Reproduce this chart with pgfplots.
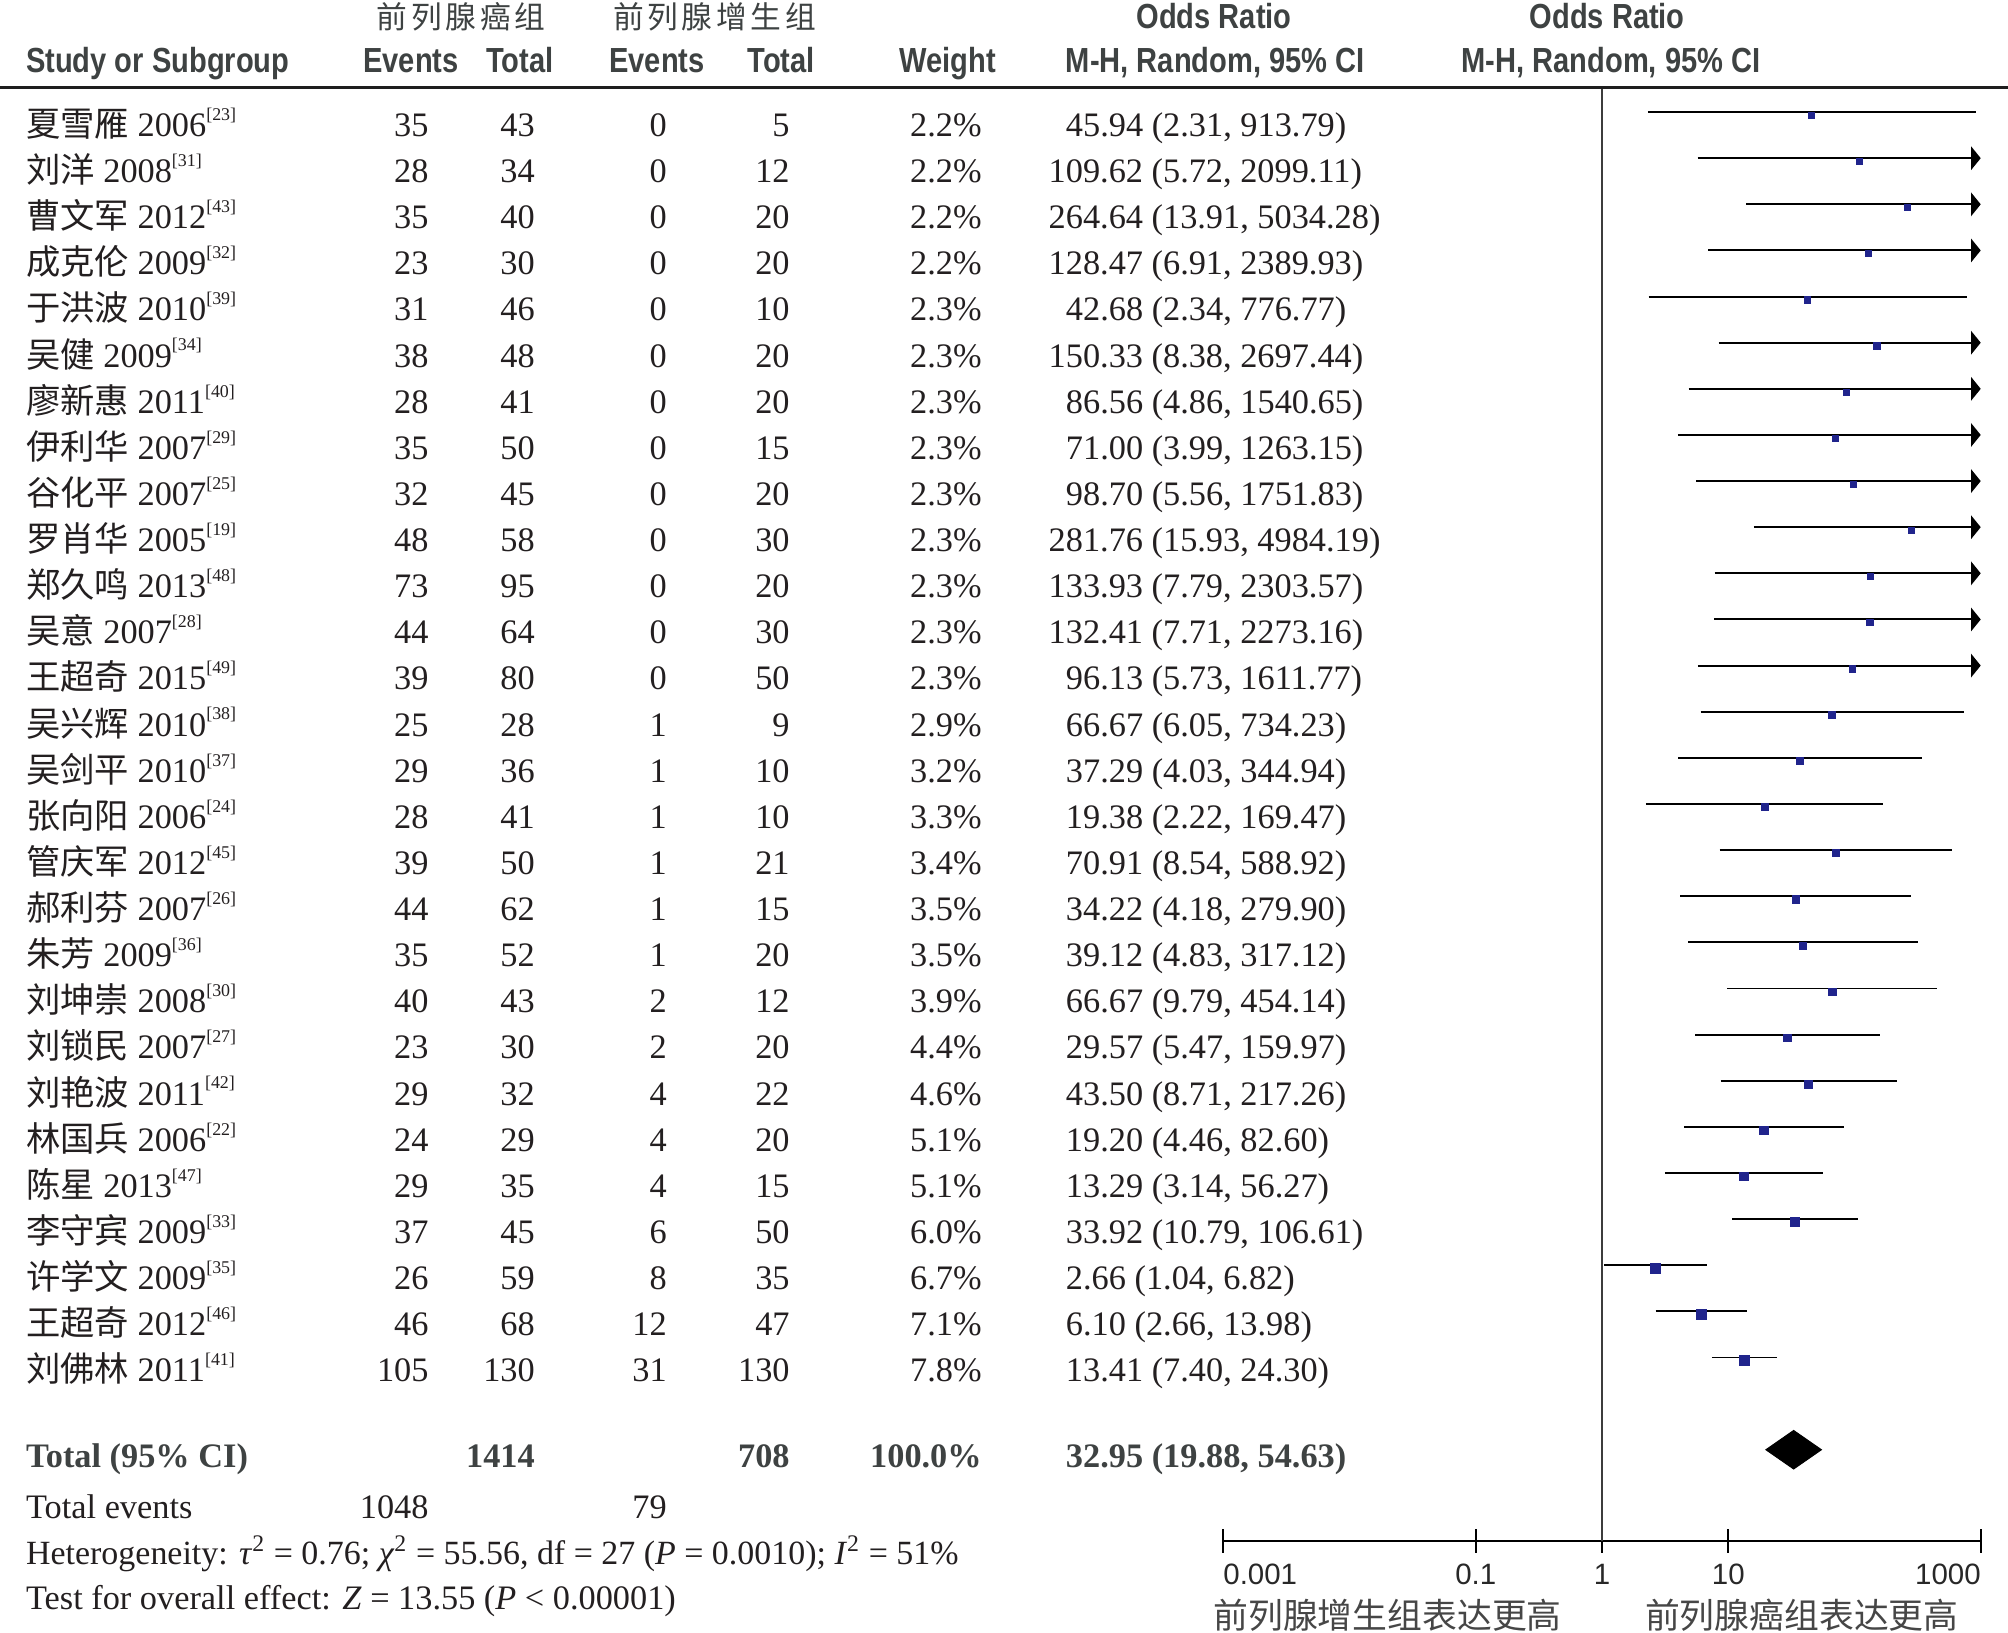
\documentclass[border=0pt]{standalone}
\usepackage{fontspec}
\setmainfont{Liberation Serif}
\newfontfamily\cjk{Noto Sans CJK SC}
\newfontfamily\cjkhead[LetterSpace=12]{Noto Sans CJK SC}
\newfontfamily\hdrfont[FakeStretch=0.835]{Liberation Sans}
\newfontfamily\tickfont{Liberation Sans}
\usepackage{pgfplots}
\usepackage{pgfplotstable}
\pgfplotsset{compat=1.18}
\usetikzlibrary{arrows.meta}

\definecolor{txt}{RGB}{35,31,32}
\definecolor{head}{RGB}{62,66,66}
\definecolor{box}{RGB}{32,36,140}
\definecolor{rule}{RGB}{60,60,60}

\newcommand\bodyfont{\fontsize{13.4}{16}\selectfont}
\newcommand\headfont{\hdrfont\bfseries\fontsize{13.6}{16}\selectfont}
\newcommand\refsup[1]{\raisebox{0.47em}{\fontsize{7}{8}\selectfont[#1]}}

% studies in the order of the figure
% nm year ref | cancer events total | BPH events total | weight | OR lo hi
\pgfplotstableread{
nm yr rf ea ta eb tb w or lo hi
夏雪雁 2006 23 35 43 0 5 2.2 45.94 2.31 913.79
刘洋 2008 31 28 34 0 12 2.2 109.62 5.72 2099.11
曹文军 2012 43 35 40 0 20 2.2 264.64 13.91 5034.28
成克伦 2009 32 23 30 0 20 2.2 128.47 6.91 2389.93
于洪波 2010 39 31 46 0 10 2.3 42.68 2.34 776.77
吴健 2009 34 38 48 0 20 2.3 150.33 8.38 2697.44
廖新惠 2011 40 28 41 0 20 2.3 86.56 4.86 1540.65
伊利华 2007 29 35 50 0 15 2.3 71.00 3.99 1263.15
谷化平 2007 25 32 45 0 20 2.3 98.70 5.56 1751.83
罗肖华 2005 19 48 58 0 30 2.3 281.76 15.93 4984.19
郑久鸣 2013 48 73 95 0 20 2.3 133.93 7.79 2303.57
吴意 2007 28 44 64 0 30 2.3 132.41 7.71 2273.16
王超奇 2015 49 39 80 0 50 2.3 96.13 5.73 1611.77
吴兴辉 2010 38 25 28 1 9 2.9 66.67 6.05 734.23
吴剑平 2010 37 29 36 1 10 3.2 37.29 4.03 344.94
张向阳 2006 24 28 41 1 10 3.3 19.38 2.22 169.47
管庆军 2012 45 39 50 1 21 3.4 70.91 8.54 588.92
郝利芬 2007 26 44 62 1 15 3.5 34.22 4.18 279.90
朱芳 2009 36 35 52 1 20 3.5 39.12 4.83 317.12
刘坤崇 2008 30 40 43 2 12 3.9 66.67 9.79 454.14
刘锁民 2007 27 23 30 2 20 4.4 29.57 5.47 159.97
刘艳波 2011 42 29 32 4 22 4.6 43.50 8.71 217.26
林国兵 2006 22 24 29 4 20 5.1 19.20 4.46 82.60
陈星 2013 47 29 35 4 15 5.1 13.29 3.14 56.27
李守宾 2009 33 37 45 6 50 6.0 33.92 10.79 106.61
许学文 2009 35 26 59 8 35 6.7 2.66 1.04 6.82
王超奇 2012 46 46 68 12 47 7.1 6.10 2.66 13.98
刘佛林 2011 41 105 130 31 130 7.8 13.41 7.40 24.30
}\studies

\pgfplotsset{cibar/.style={black, line width=0.75pt, mark=none}}

\begin{document}
\begin{tikzpicture}

\begin{axis}[
  at={(477.65pt,-601.5pt)}, anchor=south west,
  scale only axis, width=295.7pt, height=567.4pt,
  xmode=log, xmin=0.001, xmax=1000,
  ymin=-31.97, ymax=-0.464,
  axis y line=none, axis x line=bottom,
  x axis line style={-, line width=0.8pt, black},
  xtick={0.001,0.1,1,10,1000},
  xticklabels={\rlap{0.001},0.1,1,10,\llap{1000}},
  xminorticks=false,
  xtick align=center, major tick length=9.4pt,
  every tick/.style={black, line width=0.8pt},
  xticklabel style={font=\tickfont\fontsize{11.5}{13}\selectfont, text={rgb,255:red,40;green,40;blue,40},
    anchor=north, inner sep=0pt, yshift=-4.3pt},
  clip=false,
]
% line of no effect
\addplot[rule, line width=0.8pt] coordinates {(1,-31.97) (1,-0.464)};

% confidence intervals, arrow where the upper limit runs past 1000
\pgfplotsforeachungrouped \r in {0,...,27}{%
  \pgfplotstablegetelem{\r}{lo}\of\studies \let\lo\pgfplotsretval
  \pgfplotstablegetelem{\r}{hi}\of\studies \let\hi\pgfplotsretval
  \pgfmathtruncatemacro\yy{-\r-1}%
  \pgfmathtruncatemacro\cut{\hi>1000}%
  \ifnum\cut=1
    \edef\tmp{\noexpand\addplot[cibar, -{Triangle[length=3.8pt, width=9.2pt]}] coordinates {(\lo,\yy) (1000,\yy)};}%
  \else
    \edef\tmp{\noexpand\addplot[cibar] coordinates {(\lo,\yy) (\hi,\yy)};}%
  \fi
  \tmp
}

% point estimates, box size follows the weight
\addplot[scatter, only marks, mark=square*,
  scatter/use mapped color={draw=box, fill=box},
  visualization depends on={0.9+0.14*\thisrow{w} \as \msize},
  scatter/@pre marker code/.append style={/tikz/mark size=\msize, /tikz/yshift=-1.3pt}]
  table[x=or, y expr=-\coordindex-1] {\studies};

% pooled estimate 32.95 (19.88, 54.63)
\addplot[fill=black, draw=black] coordinates {(19.88,-30) (32.95,-29.583) (54.63,-30) (32.95,-30.417)} -- cycle;
\end{axis}

\begin{scope}[x=0.5pt, y=-0.5pt, every node/.style={inner sep=0pt, text=txt, font=\bodyfont}]
\path[use as bounding box] (0,0) rectangle (1568,1274.4);

% header
\begin{scope}[every node/.style={inner sep=0pt, text=head}]
\node[anchor=base, font=\cjkhead\fontsize{12}{14}\selectfont] at (360,22) {前列腺癌组};
\node[anchor=base, font=\cjkhead\fontsize{12}{14}\selectfont] at (558,22) {前列腺增生组};
\node[anchor=base, font=\headfont] at (948,22) {Odds Ratio};
\node[anchor=base, font=\headfont] at (1255,22) {Odds Ratio};
\node[anchor=base west, font=\headfont] at (20,56.5) {Study or Subgroup};
\node[anchor=base, font=\headfont] at (321,56.5) {Events};
\node[anchor=base, font=\headfont] at (406,56.5) {Total};
\node[anchor=base, font=\headfont] at (513,56.5) {Events};
\node[anchor=base, font=\headfont] at (610,56.5) {Total};
\node[anchor=base, font=\headfont] at (740,56.5) {Weight};
\node[anchor=base, font=\headfont] at (949,56.5) {M-H, Random, 95\% CI};
\node[anchor=base, font=\headfont] at (1258,56.5) {M-H, Random, 95\% CI};
\end{scope}
\draw[line width=1.3pt, color={rgb,255:red,30;green,30;blue,30}] (0,68.2) -- (1568,68.2);

% study rows
\foreach \r in {0,...,27}{
  \pgfmathsetmacro\yb{70.48+36.02*(\r+1)}
  \pgfplotstablegetelem{\r}{nm}\of\studies\let\nm\pgfplotsretval
  \pgfplotstablegetelem{\r}{yr}\of\studies\let\yr\pgfplotsretval
  \pgfplotstablegetelem{\r}{rf}\of\studies\let\rf\pgfplotsretval
  \pgfplotstablegetelem{\r}{ea}\of\studies\let\ea\pgfplotsretval
  \pgfplotstablegetelem{\r}{ta}\of\studies\let\ta\pgfplotsretval
  \pgfplotstablegetelem{\r}{eb}\of\studies\let\eb\pgfplotsretval
  \pgfplotstablegetelem{\r}{tb}\of\studies\let\tb\pgfplotsretval
  \pgfplotstablegetelem{\r}{w}\of\studies\let\wt\pgfplotsretval
  \pgfplotstablegetelem{\r}{or}\of\studies\let\orv\pgfplotsretval
  \pgfplotstablegetelem{\r}{lo}\of\studies\let\lo\pgfplotsretval
  \pgfplotstablegetelem{\r}{hi}\of\studies\let\hi\pgfplotsretval
  \pgfmathsetmacro\xo{\orv>=100 ? 818.5 : 832}
  \node[anchor=base west] at (20,\yb) {{\cjk\nm} \yr\refsup{\rf}};
  \node[anchor=base east] at (335,\yb) {\ea};
  \node[anchor=base east] at (418,\yb) {\ta};
  \node[anchor=base east] at (521,\yb) {\eb};
  \node[anchor=base east] at (617,\yb) {\tb};
  \node[anchor=base east] at (767,\yb) {\wt\%};
  \node[anchor=base west] at (\xo,\yb) {\orv\ (\lo, \hi)};
}

% totals
\begin{scope}[every node/.style={inner sep=0pt, text=head, font=\bodyfont\bfseries}]
\node[anchor=base west] at (20,1146) {Total (95\% CI)};
\node[anchor=base east] at (418,1146) {1414};
\node[anchor=base east] at (617,1146) {708};
\node[anchor=base east] at (767,1146) {100.0\%};
\node[anchor=base west] at (832,1146) {32.95 (19.88, 54.63)};
\end{scope}
\node[anchor=base west] at (20,1186) {Total events};
\node[anchor=base east] at (335,1186) {1048};
\node[anchor=base east] at (521,1186) {79};
\node[anchor=base west, font=\fontsize{13.25}{16}\selectfont] at (20,1222) {Heterogeneity: \textit{τ}\textsuperscript{2} = 0.76; \textit{χ}\textsuperscript{2} = 55.56, df = 27 (\textit{P} = 0.0010); \textit{I}\textsuperscript{2} = 51\%};
\node[anchor=base west] at (20,1257) {Test for overall effect: \textit{Z} = 13.55 (\textit{P} < 0.00001)};

% direction labels under the axis
\node[anchor=base, text={rgb,255:red,70;green,70;blue,70}, font=\cjk\fontsize{13.6}{16}\selectfont] at (1083.5,1271.5) {前列腺增生组表达更高};
\node[anchor=base, text={rgb,255:red,70;green,70;blue,70}, font=\cjk\fontsize{13.6}{16}\selectfont] at (1407,1271.5) {前列腺癌组表达更高};
\end{scope}
\end{tikzpicture}
\end{document}
